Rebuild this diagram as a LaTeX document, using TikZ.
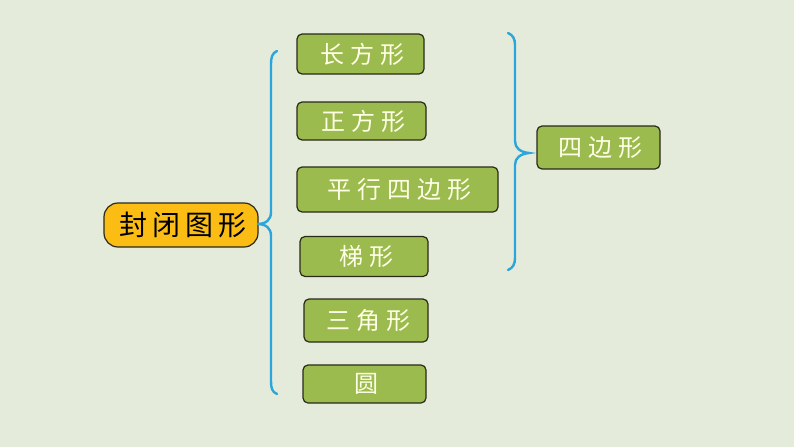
\documentclass[tikz,border=0pt]{standalone}
\usepackage{fontspec}
\newfontfamily\cjk[LetterSpace=25]{Noto Sans CJK SC}
\newfontfamily\cjkroot[LetterSpace=17]{Noto Sans CJK SC}
\definecolor{bgcol}{HTML}{E4EBDA}
\definecolor{boxgreen}{HTML}{9BBB4F}
\definecolor{rootgold}{HTML}{FBBD14}
\definecolor{bracecol}{HTML}{2AA6DC}
\definecolor{txtcream}{HTML}{FFFFE6}
\definecolor{edgecol}{HTML}{2A2A1A}

\begin{document}
\begin{tikzpicture}[x=1pt, y=-1pt,
  shapebox/.style = {draw=edgecol, line width=1.2pt, fill=boxgreen, rounded corners=5pt,
    text=txtcream, font=\cjk\fontsize{24}{26}\selectfont, inner sep=0pt},
  rootbox/.style = {draw=edgecol, line width=1.2pt, fill=rootgold, rounded corners=14pt,
    text=black, font=\cjkroot\fontsize{28}{30}\selectfont, inner sep=0pt,
    minimum width=154pt, minimum height=44pt},
  brace/.style = {draw=bracecol, line width=2.4pt, line cap=round}]
\useasboundingbox [fill=bgcol] (0,0) rectangle (794,447);

% root node
\node [rootbox] (closed) at (181,225) {\hspace*{4pt}封闭图形};

% kinds of closed figures
\node [shapebox, minimum width=127pt, minimum height=40pt] (rect) at (360.5,54) {\hspace*{4pt}长方形};
\node [shapebox, minimum width=129pt, minimum height=38pt] (square) at (361.5,121) {\hspace*{4pt}正方形};
\node [shapebox, minimum width=201pt, minimum height=45pt] (para) at (397.5,189.5) {\hspace*{4pt}平行四边形};
\node [shapebox, minimum width=128pt, minimum height=40pt] (trap) at (364,256.5) {\hspace*{4pt}梯形};
\node [shapebox, minimum width=124pt, minimum height=43pt] (tri) at (366,320.5) {\hspace*{4pt}三角形};
\node [shapebox, minimum width=123pt, minimum height=38pt] (circ) at (364.5,384) {\hspace*{4pt}圆};
\node [shapebox, minimum width=123pt, minimum height=43pt] (quad) at (598.5,147.5) {\hspace*{4pt}四边形};

% left brace
\draw [brace] (277,51) .. controls (272,53) and (271,58) .. (271,64) -- (271,212)
  .. controls (271,220) and (266,224) .. (257,224)
  .. controls (266,224) and (271,228) .. (271,236) -- (271,381)
  .. controls (271,388) and (272,392) .. (277,394);

% right brace
\draw [brace] (508,33) .. controls (513,35) and (515,39) .. (515,45) -- (515,141)
  .. controls (515,148) and (520,152) .. (529,153)
  .. controls (520,154) and (515,158) .. (515,165) -- (515,258)
  .. controls (515,264) and (513,268) .. (508,270);
\end{tikzpicture}
\end{document}
